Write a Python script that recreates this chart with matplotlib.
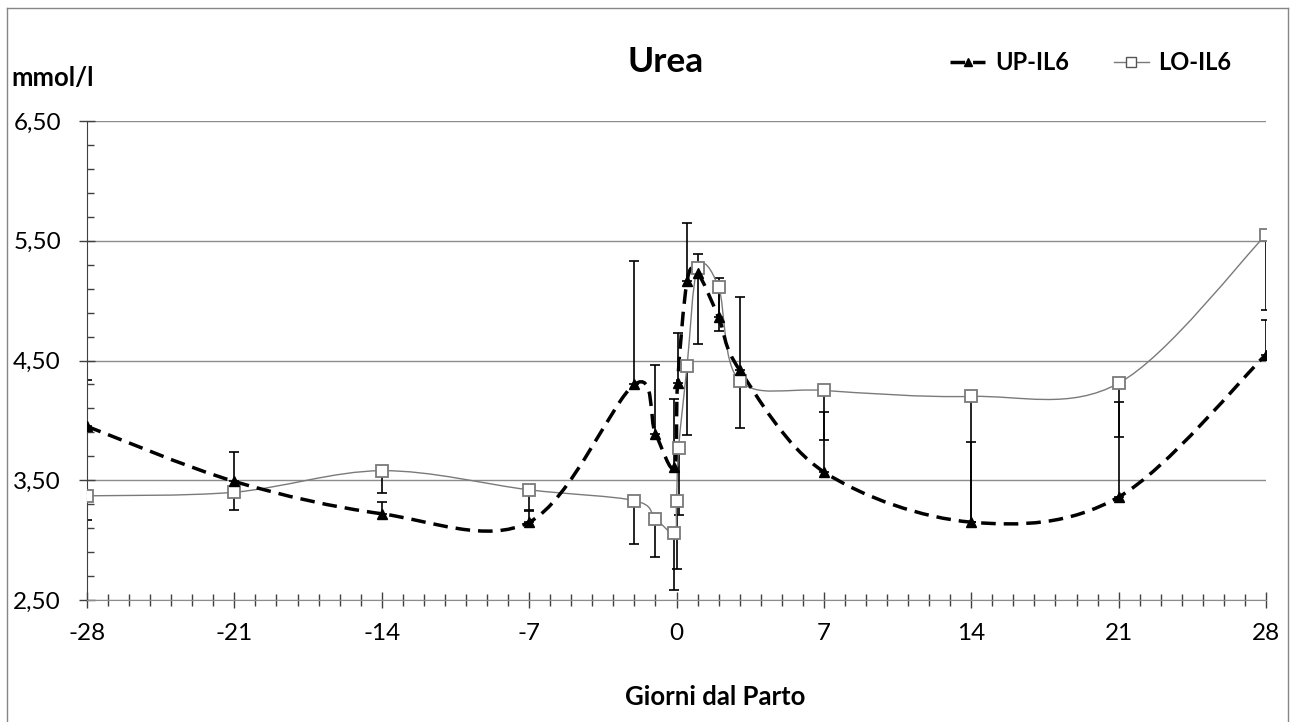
import matplotlib
matplotlib.use('Agg')
import matplotlib.pyplot as plt
import numpy as np
from matplotlib.path import Path
from matplotlib.patches import PathPatch
from matplotlib.lines import Line2D
from matplotlib.ticker import MultipleLocator

plt.rcParams['font.family'] = ['Lato', 'DejaVu Sans']

# giorni dal parto e valori medi (mmol/l)
days_up = [-28, -21, -14, -7, -2, -1, -0.1, 0.05, 0.5, 1, 2, 3, 7, 14, 21, 28]
urea_up = [3.95, 3.49, 3.22, 3.15, 4.30, 3.89, 3.61, 4.31, 5.16, 5.23, 4.86, 4.42, 3.57, 3.15, 3.36, 4.55]
err_up = [0.39, 0.25, 0.10, 0.09, 1.03, 0.57, 0.57, 0.42, 0.49, 0.16, 0.33, 0.61, 0.50, 0.67, 0.79, 0.29]

days_lo = [-28, -21, -14, -7, -2, -1, -0.1, 0, 0.1, 0.5, 1, 2, 3, 7, 14, 21, 28]
urea_lo = [3.37, 3.40, 3.58, 3.42, 3.33, 3.18, 3.06, 3.33, 3.77, 4.45, 5.27, 5.11, 4.33, 4.25, 4.20, 4.31, 5.55]
err_lo = [0.20, 0.15, 0.19, 0.17, 0.36, 0.32, 0.48, 0.57, 0.56, 0.57, 0.63, 0.36, 0.39, 0.41, 1.05, 0.45, 0.63]

xticks = [-28, -21, -14, -7, 0, 7, 14, 21, 28]
yticks = [2.5, 3.5, 4.5, 5.5, 6.5]
ylabels = ['2,50', '3,50', '4,50', '5,50', '6,50']


def smooth_path(x, y):
    # curva "smussata" come in Excel (bezier catmull-rom)
    pts = np.column_stack([x, y]).astype(float)
    n = len(pts)
    verts = [pts[0]]
    codes = [Path.MOVETO]
    for i in range(n - 1):
        p0 = pts[i - 1] if i > 0 else pts[i]
        p1 = pts[i]
        p2 = pts[i + 1]
        p3 = pts[i + 2] if i + 2 < n else pts[i + 1]
        verts += [p1 + (p2 - p0) / 6, p2 - (p3 - p1) / 6, p2]
        codes += [Path.CURVE4] * 3
    return Path(verts, codes)


W, H = 1290, 722
fig = plt.figure(figsize=(W / 100, H / 100), dpi=100)
ax = fig.add_axes([87 / W, 1 - 600 / H, (1266 - 87) / W, (600 - 121) / H])

dash = (0, (4.2, 2.3))
grey = '#7a7a7a'

ax.errorbar(days_up, urea_up, yerr=[np.zeros(len(err_up)), err_up], fmt='none',
            ecolor='black', elinewidth=1.2, capsize=3.5, capthick=1.2, zorder=2)
ax.errorbar(days_lo, urea_lo, yerr=[err_lo, np.zeros(len(err_lo))], fmt='none',
            ecolor='black', elinewidth=1.2, capsize=3.5, capthick=1.2, zorder=2)

ax.add_patch(PathPatch(smooth_path(days_lo, urea_lo), fill=False, edgecolor=grey,
                       lw=1.0, zorder=3))
ax.add_patch(PathPatch(smooth_path(days_up, urea_up), fill=False, edgecolor='black',
                       lw=2.5, linestyle=dash, zorder=3))

ax.plot(days_lo, urea_lo, ls='none', marker='s', ms=8.5, mfc='white', mec=grey,
        mew=1.3, zorder=4)
ax.plot(days_up, urea_up, ls='none', marker='^', ms=7.5, color='black', zorder=5)

ax.set_xlim(-28, 28)
ax.set_ylim(2.5, 6.5)
ax.set_xticks(xticks)
ax.set_xticklabels([str(t) for t in xticks])
ax.set_yticks(yticks)
ax.set_yticklabels(ylabels)
ax.xaxis.set_minor_locator(MultipleLocator(1))
ax.set_yticks(np.arange(2.7, 6.4, 0.2), minor=True)

ax.grid(axis='y', which='major', color='#8c8c8c', lw=1.0)
ax.set_axisbelow(True)
for s in ['top', 'right']:
    ax.spines[s].set_visible(False)
ax.spines['left'].set_color('#404040')
ax.spines['bottom'].set_color('#8c8c8c')

ax.tick_params(axis='x', which='major', direction='inout', length=11, width=1,
               color='#404040', labelsize=17.5, pad=11)
ax.tick_params(axis='x', which='minor', direction='inout', length=8.5, width=1,
               color='#404040')
ax.tick_params(axis='y', which='major', direction='inout', length=11.5, width=1,
               color='#404040', labelsize=17.5, pad=13)
ax.tick_params(axis='y', which='minor', direction='in', length=5, width=1,
               color='#404040')

fig.text(666 / W, 1 - 72 / H, 'Urea', ha='center', va='baseline',
         fontsize=25.5, fontweight='bold')
fig.text(11 / W, 1 - 86 / H, 'mmol/l', ha='left', va='baseline',
         fontsize=18.5, fontweight='bold')
fig.text(715 / W, 1 - 705 / H, 'Giorni dal Parto', ha='center', va='baseline',
         fontsize=18.5, fontweight='bold')

handles = [
    Line2D([], [], color='black', lw=2.5, ls=dash, marker='^', ms=6),
    Line2D([], [], color=grey, lw=1.0, marker='s', ms=7, mfc='white', mec='#555555', mew=1.0),
]
fig.legend(handles, ['UP-IL6', 'LO-IL6'], loc='center left',
           bbox_to_anchor=(950 / W, 1 - 63 / H), ncol=2, frameon=False,
           borderpad=0, borderaxespad=0, handlelength=1.5, handletextpad=0.4,
           columnspacing=1.9, prop={'size': 17, 'weight': 'bold'})

# cornice esterna
for xs, ys in [([7, 7], [H, 8]), ([7, 1288], [8, 8]), ([1288, 1288], [8, H])]:
    fig.add_artist(Line2D([x / W for x in xs], [1 - y / H for y in ys],
                          color='#868686', lw=1.0))

fig.savefig('out.png', dpi=100)
